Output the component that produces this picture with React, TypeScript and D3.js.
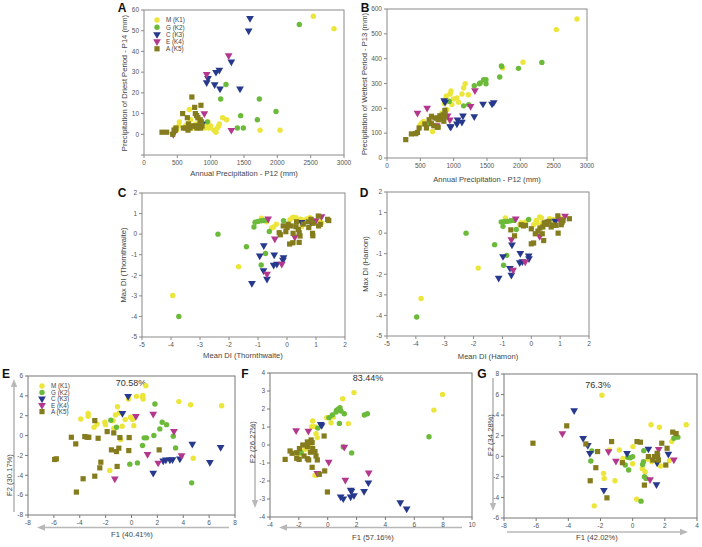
import React from "react";
import * as d3 from "d3";

type Pt = [number, number];

const groupNames = ["M (K1)", "G (K2)", "C (K3)", "E (K4)", "A (K5)"];
const groupColors = ["#ece53a", "#6cba3a", "#27398d", "#b4378e", "#857c1e"];
const groupShapes = ["circle", "circle", "tri", "tri", "square"];

// Panel A: Annual precipitation vs driest period precipitation
const aM: Pt[] = [[2540,57],[2850,51],[2040,2],[1740,2],[1180,8],[1240,7],[1120,4],[1130,5],[1080,1],[1050,2],[1000,4],[980,3],[950,4],[920,3],[960,6],[900,5],[870,4],[830,7],[820,5],[800,3],[780,5],[760,4],[740,3],[680,12],[700,7],[650,5],[620,4],[530,6],[520,4],[465,3],[490,2],[1100,3]];
const aG: Pt[] = [[2330,53],[1230,24],[1150,17],[1730,17],[1980,11],[1450,9],[1700,7],[1400,3],[1490,3],[950,6]];
const aC: Pt[] = [[1590,56],[1570,50],[1310,35],[1130,31],[1080,30],[960,27],[940,25],[1060,24],[1140,22],[1440,22],[870,5]];
const aE: Pt[] = [[1270,38],[940,29],[905,10],[1310,2],[440,0]];
const aA: Pt[] = [[270,1],[340,1],[430,0],[450,2],[480,3],[470,2],[580,10],[590,3],[630,3],[650,8],[667,5],[660,2],[690,3],[718,18],[760,13],[770,10],[790,9],[794,3],[808,8],[818,4],[840,5],[844,7],[854,14],[860,6],[870,4],[850,3],[753,4],[780,4],[720,4]];

// Panel B: Annual precipitation vs wettest period precipitation
const bM: Pt[] = [[2850,560],[2540,517],[2040,386],[1736,362],[1173,299],[1149,282],[1124,258],[1049,242],[1074,224],[999,238],[948,258],[960,270],[924,231],[858,219],[873,235],[973,215],[522,141],[548,147],[497,134],[683,107],[848,174],[820,180],[900,195],[1220,255],[890,250]];
const bG: Pt[] = [[2323,385],[1972,361],[1716,371],[1721,368],[1691,326],[1450,315],[1485,315],[1485,299],[1399,302],[1385,299],[1309,291],[1225,215],[1149,210],[933,228],[873,181],[638,141],[597,134]];
const bC: Pt[] = [[1440,218],[1575,218],[1601,224],[1309,167],[1139,170],[1124,145],[1059,154],[1049,138],[948,127],[958,126],[858,232],[870,225]];
const bE: Pt[] = [[457,181],[602,201],[1319,272],[1254,208],[908,170],[943,154],[743,131]];
const bA: Pt[] = [[281,74],[366,97],[431,98],[457,103],[482,121],[567,137],[592,121],[632,154],[667,168],[667,138],[702,130],[753,124],[768,124],[753,161],[793,161],[818,165],[833,157],[853,164],[843,174],[868,192],[868,168],[793,170],[718,161],[768,154],[853,148],[810,158]];

// Panel C: Mean DI vs Max DI (Thornthwaite)
const cM: Pt[] = [[-3.94,-2.98],[-1.67,-1.58],[-0.88,0.78],[-0.53,0.3],[-0.46,0.35],[-0.37,0.48],[0.19,0.8],[0.23,0.82],[0.31,0.8],[0.46,0.73],[0.5,0.7],[0.68,0.74],[0.79,0.8],[0.85,0.53],[0.92,0.56],[0.23,-0.4],[0.5,0.36],[1.14,0.6],[1.2,0.55],[0.6,0.6],[0.1,0.7],[-0.7,0.6]];
const cG: Pt[] = [[-2.38,0],[-1.4,-0.61],[-3.73,-4],[-0.89,-1.5],[-0.74,-0.94],[-1.14,0.35],[-1.1,0.58],[-1.0,0.62],[-0.89,0.65],[-0.8,0.66],[-0.69,0.68],[-0.61,0.13],[-0.12,0.65]];
const cC: Pt[] = [[-1.21,-2.39],[-0.94,-1.05],[-0.8,-0.55],[-0.81,-1.77],[-0.69,-2.18],[-0.44,-1],[-0.46,-1.5],[-0.35,-1.45],[-0.12,-1.13],[-0.14,-1.26],[0.5,0.58],[0.83,0.58]];
const cE: Pt[] = [[-0.65,0.75],[-0.69,-1.94],[-0.18,-1.45],[-0.42,-0.22],[0.27,-0.14],[1.19,0.86],[0.99,0.66]];
const cA: Pt[] = [[-0.23,-0.03],[0.09,-0.48],[0.42,-0.4],[0,0.32],[-0.13,0.4],[0.04,0.48],[0.14,0.4],[-0.27,0.07],[0.21,0.04],[0.39,0.23],[0.42,0.07],[0.45,-0.09],[0.31,0.36],[0.56,0.49],[0.73,0.6],[0.9,0.53],[0.83,0.72],[0.88,0.04],[1.08,0.88],[1.4,0.72],[1.44,0.66],[1.09,0.4],[1.15,0.48],[0.75,0.32],[0.89,-0.08],[0.33,0.6],[0.2,-0.42],[-0.04,0.12]];

// Panel D: Mean DI vs Max DI (Hamon)
const dM: Pt[] = [[-3.82,-3.18],[-1.84,-1.7],[-0.9,0.74],[-0.4,0.41],[-0.35,0.51],[0.08,0.41],[0.17,0.62],[0.29,0.79],[0.35,0.74],[0.37,0.46],[0.63,0.7],[0.75,0.67],[0.98,0.74],[1.06,0.7],[0.5,0.55],[0.2,0.5],[-0.2,0.55],[0.85,0.6],[0.6,0.45]];
const dG: Pt[] = [[-3.97,-4.08],[-2.26,0],[-1.27,-0.56],[-0.96,-1.56],[-0.85,-1.08],[-0.98,0.33],[-1.04,0.54],[-0.93,0.57],[-0.82,0.57],[-0.72,0.6],[-0.61,0.62],[-0.52,0.18],[-0.09,0.66]];
const dC: Pt[] = [[-1.13,-2.18],[-0.98,-1.13],[-0.67,-0.56],[-0.74,-1.7],[-0.69,-2.03],[-0.38,-0.98],[-0.4,-1.43],[-0.31,-1.38],[-0.09,-1.1],[-0.08,-1.23],[0.58,0.54],[0.83,0.59]];
const dE: Pt[] = [[-0.54,0.7],[-0.69,-0.31],[-0.63,-1.79],[-0.21,-1.39],[0.29,-0.15],[1.17,0.84],[0.98,0.66]];
const dA: Pt[] = [[-0.71,0.16],[-0.58,-0.13],[-0.35,0.41],[-0.27,0.35],[0,0.21],[0,-0.52],[0.08,-0.48],[0.14,-0.03],[0.23,0.1],[0.3,0.25],[0.38,-0.03],[0.43,-0.36],[0.4,0.3],[0.52,0.43],[0.61,0.57],[0.69,0.3],[0.75,0.4],[0.86,0.38],[0.93,0],[0.92,0.84],[1.04,0.41],[1.07,0.54],[1.32,0.7],[1.1,0.62],[-0.2,0.38],[0.45,0.5]];

// Panel E: PCA F1 (40.41%) vs F2 (30.17%)
const eM: Pt[] = [[1.11,5.02],[0.39,3.95],[0.85,3.92],[0.9,3.68],[0.88,4.05],[-0.23,3.68],[-1.08,2.91],[-0.95,2.28],[-3.35,2.24],[-3.35,1.94],[-3.92,1.67],[-2.66,1.17],[-2.06,1.34],[-2.01,1.1],[-1.42,1.5],[-1.24,2.08],[-1.37,0.74],[-0.72,0.94],[-0.49,1.61],[-0.08,1.84],[0.08,1.61],[0.18,1],[-2.89,0.84],[-0.83,-0.4],[-1.68,-3.52],[3.66,3.42],[4.57,3.11],[6.97,3.01],[4.77,-2.28]];
const eG: Pt[] = [[1.81,3.18],[-1.6,1.54],[-1.16,0.84],[2.37,1.34],[2.71,1.1],[2.19,0.67],[1.73,0],[1.16,-0.23],[0.98,-0.23],[3.23,-0.07],[0.85,-1],[3.41,-1.24],[0.46,-2.75],[-0.13,-2.88],[4.65,-4.76]];
const eC: Pt[] = [[-0.26,3.95],[-0.7,2.24],[6.89,-1.17],[4.7,-0.84],[6.06,-2.68],[3.74,-2.34],[3.17,-2.41],[2.97,-2.44],[2.66,-2.44],[2.45,-2.54],[1.68,-3.78]];
const eE: Pt[] = [[0.34,1.94],[1.68,2.18],[3.28,0.44],[1.24,-1.88],[2.06,-2.75],[3.87,-2.01],[-1.29,-4.35]];
const eA: Pt[] = [[-4.65,-0.17],[-4.31,-0.84],[-3.61,-0.1],[-3.43,-0.17],[-3.3,-0.17],[-2.58,-0.27],[-2.84,1.51],[-1.88,0.4],[-1.37,0.27],[-0.9,-0.2],[-0.18,-0.2],[-1.55,-1.44],[-1.16,-1.61],[-0.98,-1.27],[-0.21,-1.51],[2.14,-1.44],[-5.94,-2.41],[-5.81,-2.34],[-2.37,-2.68],[-2.45,-3.25],[-2.84,-4.09],[-3.74,-4.35],[-1.11,-3.11],[-4.26,-5.69]];

// Panel F: PCA F1 (57.16%) vs F2 (26.27%)
const fM: Pt[] = [[1.82,2.91],[1.04,2.57],[7.96,2.81],[7.36,1.94],[0.39,1.56],[0.23,1.24],[1.43,1.19],[-0.07,1.52],[-1.04,1.33],[-1.11,1.02],[-0.88,1.02],[-0.81,0.63],[-0.72,0.41],[-1.22,-0.06],[-1.57,-0.24],[-2.03,-0.52],[-1.8,-0.35],[-0.88,-1.69],[-1.4,-0.1]];
const fG: Pt[] = [[0.92,1.89],[0.62,1.94],[0.85,2.07],[0.75,2.0],[0.58,1.83],[1.15,1.74],[0.32,1.67],[0.09,1.52],[0.81,1.2],[2.54,1.67],[2.75,1.74],[7.02,0.46],[1.08,-0.11],[1.66,-0.44],[-0.69,0.94],[-1.85,-0.43]];
const fC: Pt[] = [[-0.48,1.15],[-0.42,1.09],[0.9,-2.87],[1.08,-2.98],[1.59,-2.5],[1.65,-2.55],[1.59,-2.87],[1.82,-2.8],[2.52,-2.57],[2.82,-2.09],[5.03,-3.2],[5.47,-3.54]];
const fE: Pt[] = [[-2.19,0.81],[-1.34,0.78],[1.15,-0.11],[0.07,-0.94],[1.22,-1.94],[2.84,-1.54],[-0.72,-1.57]];
const fA: Pt[] = [[-2.95,-0.8],[-2.61,-0.33],[-2.47,-0.46],[-2.15,-0.43],[-2.15,-0.74],[-1.98,-0.8],[-1.73,0],[-1.41,0.17],[-1.15,0.28],[-1.41,-0.09],[-1.08,0.13],[-1.04,-0.2],[-1.41,-0.76],[-1.32,-0.83],[-0.88,-0.37],[-0.81,-0.61],[-0.72,-0.83],[-1.08,-1.24],[-0.58,-1.63],[-0.21,-1.44],[-0.25,0.5],[-0.02,-2.61],[-1.96,-0.2],[-1.64,-0.61],[-1.2,-0.4]];

// Panel G: PCA F1 (42.02%) vs F2 (34.28%)
const gM: Pt[] = [[-1.91,5.93],[1.14,3.06],[1.66,2.83],[3.33,3.06],[-1.46,0.62],[-0.83,0.62],[-1.81,-1.66],[-1.77,-2.15],[-1.1,-2.38],[-2.39,-4.82],[0.25,-4.17],[0.02,0.94],[0,-0.72],[0.77,-1.5],[0.94,-0.29],[1.46,-0.36],[1.73,-0.94],[2.43,1.43],[2.29,-0.42],[1.19,-0.52],[-0.6,-0.2],[0.6,-1.2]];
const gG: Pt[] = [[-2.54,0.52],[-2.6,-0.46],[-0.46,-0.85],[-0.25,-1.34],[0,-0.03],[-0.15,-0.15],[0.67,-0.52],[0.62,-0.8],[0.69,0.55],[0.73,-1.99],[0.83,-2.15],[0.52,-4.36],[2.56,1.76],[2.81,1.86],[-0.3,-0.1]];
const gC: Pt[] = [[-3.64,4.46],[-3.08,1.76],[-2.79,1.07],[-2.66,0.29],[-1.79,-3.29],[-0.35,0.29],[0.98,0.72],[1.52,-0.62],[1.48,-2.74],[2.22,0.23]];
const gE: Pt[] = [[-4.37,2.21],[-1.5,0.46],[-1.04,-0.46],[1.62,0.68],[1.08,-2.25],[2.56,-0.33]];
const gA: Pt[] = [[-6.2,1.27],[-4.1,2.96],[-2.91,1.2],[-2.18,0.46],[-2.29,-1.11],[-2.64,-2.38],[-1.6,-4.04],[-1.31,1.43],[-0.64,-0.62],[0.27,1.43],[0.48,1.37],[0.73,-2.8],[0.98,-0.03],[1.25,-0.36],[1.52,0.29],[1.6,-0.36],[1.81,1.27],[2.14,0.78],[2.06,-0.85],[2.49,2.35],[2.7,2.21],[1.35,-0.03],[1.55,0.05]];

const FONT = "'Liberation Sans', Arial, sans-serif";

type Cfg = {
  letter: string; lx: number; ly: number;
  left: number; right: number; top: number; bottom: number;
  xd: [number, number]; yd: [number, number];
  xt: number[]; yt: number[]; yLabelMin?: number;
  xLabel: string; xLabelY: number; xLabelX: number;
  yLabel: string; yLabelX: number; yLabelY: number;
  frame: string;
  series: Pt[][];
  pct?: { text: string; x: number; y: number; anchor: string };
  legend?: { x: number; y: number; dy: number };
  arrows?: { x1: number; y1: number; x2: number; y2: number }[];
};

function Mark({ shape, color, x, y }: { shape: string; color: string; x: number; y: number }) {
  if (shape === "circle") return <circle cx={x} cy={y} r={2.7} fill={color} />;
  if (shape === "square") return <rect x={x - 2.6} y={y - 2.6} width={5.2} height={5.2} fill={color} />;
  const tri = d3.symbol().type(d3.symbolTriangle).size(26)();
  return <path d={tri || ""} transform={`translate(${x},${y}) rotate(180)`} fill={color} />;
}

function Arrow({ x1, y1, x2, y2 }: { x1: number; y1: number; x2: number; y2: number }) {
  const ang = Math.atan2(y2 - y1, x2 - x1);
  const L = 8, W = 3.2;
  const bx = x2 - L * Math.cos(ang), by = y2 - L * Math.sin(ang);
  const px = -Math.sin(ang) * W, py = Math.cos(ang) * W;
  return (
    <g>
      <line x1={x1} y1={y1} x2={bx} y2={by} stroke="#b8b8b8" strokeWidth={1.6} />
      <polygon points={`${x2},${y2} ${bx + px},${by + py} ${bx - px},${by - py}`} fill="#b8b8b8" />
    </g>
  );
}

function Panel({ c }: { c: Cfg }) {
  const xs = d3.scaleLinear().domain(c.xd).range([c.left, c.right]);
  const ys = d3.scaleLinear().domain(c.yd).range([c.bottom, c.top]);
  return (
    <g>
      {c.arrows && c.arrows.map((a, i) => <Arrow key={i} {...a} />)}
      <rect x={c.left} y={c.top} width={c.right - c.left} height={c.bottom - c.top} fill="none" stroke={c.frame} strokeWidth={1} />
      {c.xt.map((v) => (
        <g key={"x" + v}>
          <line x1={xs(v)} x2={xs(v)} y1={c.bottom} y2={c.bottom + 3} stroke={c.frame} />
          <text x={xs(v)} y={c.bottom + 10} fontSize={6.5} fill="#555" textAnchor="middle" fontFamily={FONT}>{v}</text>
        </g>
      ))}
      {c.yt.map((v) => (
        <g key={"y" + v}>
          <line x1={c.left - 3} x2={c.left} y1={ys(v)} y2={ys(v)} stroke={c.frame} />
          {(c.yLabelMin === undefined || v >= c.yLabelMin) && (
            <text x={c.left - 5} y={ys(v) + 2.3} fontSize={6.5} fill="#555" textAnchor="end" fontFamily={FONT}>{v}</text>
          )}
        </g>
      ))}
      <text x={c.xLabelX} y={c.xLabelY} fontSize={7.6} fill="#444" textAnchor="middle" fontFamily={FONT}>{c.xLabel}</text>
      <text transform={`translate(${c.yLabelX},${c.yLabelY}) rotate(-90)`} fontSize={7.6} fill="#444" textAnchor="middle" fontFamily={FONT}>{c.yLabel}</text>
      <text x={c.lx} y={c.ly} fontSize={12} fontWeight="bold" fill="#111" textAnchor="middle" fontFamily={FONT}>{c.letter}</text>
      {c.pct && (
        <text x={c.pct.x} y={c.pct.y} fontSize={9} fill="#333" textAnchor={c.pct.anchor} fontFamily={FONT}>{c.pct.text}</text>
      )}
      {c.series.map((pts, gi) => (
        <g key={"s" + gi}>
          {pts.map((p, i) => (
            <Mark key={i} shape={groupShapes[gi]} color={groupColors[gi]} x={xs(p[0])} y={ys(p[1])} />
          ))}
        </g>
      ))}
      {c.legend && groupNames.map((n, gi) => (
        <g key={"l" + gi}>
          <Mark shape={groupShapes[gi]} color={groupColors[gi]} x={c.legend!.x} y={c.legend!.y + gi * c.legend!.dy} />
          <text x={c.legend!.x + 9} y={c.legend!.y + gi * c.legend!.dy + 2.3} fontSize={6.3} fill="#444" fontFamily={FONT}>{n}</text>
        </g>
      ))}
    </g>
  );
}

const panels: Cfg[] = [
  {
    letter: "A", lx: 122, ly: 12, left: 144, right: 344, top: 10, bottom: 155,
    xd: [0, 3000], yd: [-10, 60], xt: d3.range(0, 3001, 500), yt: d3.range(-10, 61, 10), yLabelMin: 0,
    xLabel: "Annual Precipitation - P12 (mm)", xLabelX: 244, xLabelY: 176,
    yLabel: "Precipitation of Driest Period - P14 (mm)", yLabelX: 127, yLabelY: 83,
    frame: "#8a8a8a", series: [aM, aG, aC, aE, aA], legend: { x: 157, y: 20, dy: 7.2 },
  },
  {
    letter: "B", lx: 365, ly: 12, left: 387, right: 587, top: 9, bottom: 158,
    xd: [0, 3000], yd: [0, 600], xt: d3.range(0, 3001, 500), yt: d3.range(0, 601, 100),
    xLabel: "Annual Precipitation - P12 (mm)", xLabelX: 487, xLabelY: 182,
    yLabel: "Precipitation of Wettest Period - P13 (mm)", yLabelX: 367, yLabelY: 84,
    frame: "#8a8a8a", series: [bM, bG, bC, bE, bA],
  },
  {
    letter: "C", lx: 122, ly: 197, left: 142, right: 345, top: 193, bottom: 337,
    xd: [-5, 2], yd: [-5, 2], xt: d3.range(-5, 3, 1), yt: d3.range(-5, 3, 1),
    xLabel: "Mean DI (Thornthwaite)", xLabelX: 243, xLabelY: 358,
    yLabel: "Max DI (Thornthwaite)", yLabelX: 126, yLabelY: 265,
    frame: "#8a8a8a", series: [cM, cG, cC, cE, cA],
  },
  {
    letter: "D", lx: 364, ly: 197, left: 387, right: 589, top: 192, bottom: 336,
    xd: [-5, 2], yd: [-5, 2], xt: d3.range(-5, 3, 1), yt: d3.range(-5, 3, 1),
    xLabel: "Mean DI (Hamon)", xLabelX: 488, xLabelY: 358.5,
    yLabel: "Max DI (Hamon)", yLabelX: 368, yLabelY: 264,
    frame: "#8a8a8a", series: [dM, dG, dC, dE, dA],
  },
  {
    letter: "E", lx: 6, ly: 378, left: 28, right: 235, top: 376, bottom: 515,
    xd: [-8, 8], yd: [-8, 6], xt: d3.range(-8, 9, 2), yt: d3.range(-8, 7, 2),
    xLabel: "F1 (40.41%)", xLabelX: 132, xLabelY: 537,
    yLabel: "F2 (30.17%)", yLabelX: 12, yLabelY: 475,
    frame: "#777", series: [eM, eG, eC, eE, eA],
    pct: { text: "70.58%", x: 131, y: 386, anchor: "middle" },
    legend: { x: 42, y: 386, dy: 6.4 },
    arrows: [{ x1: 229, y1: 527.5, x2: 37, y2: 527.5 }, { x1: 14, y1: 512, x2: 14, y2: 379 }],
  },
  {
    letter: "F", lx: 245, ly: 378, left: 270, right: 472, top: 373, bottom: 517,
    xd: [-4, 10], yd: [-4, 4], xt: d3.range(-4, 11, 2), yt: d3.range(-4, 5, 1),
    xLabel: "F1 (57.16%)", xLabelX: 373, xLabelY: 539.5,
    yLabel: "F2 (26.27%)", yLabelX: 255, yLabelY: 442,
    frame: "#777", series: [fM, fG, fC, fE, fA],
    pct: { text: "83.44%", x: 368, y: 381, anchor: "middle" },
    arrows: [{ x1: 462, y1: 527.5, x2: 279, y2: 527.5 }, { x1: 255, y1: 424, x2: 255, y2: 508 }],
  },
  {
    letter: "G", lx: 482, ly: 378, left: 504, right: 697, top: 374, bottom: 518,
    xd: [-8, 4], yd: [-6, 8], xt: d3.range(-8, 5, 2), yt: d3.range(-6, 9, 2),
    xLabel: "F1 (42.02%)", xLabelX: 597, xLabelY: 540,
    yLabel: "F2 (34.28%)", yLabelX: 493, yLabelY: 435,
    frame: "#777", series: [gM, gG, gC, gE, gA],
    pct: { text: "76.3%", x: 598, y: 388, anchor: "middle" },
    arrows: [{ x1: 507, y1: 532, x2: 688, y2: 532 }, { x1: 493, y1: 378, x2: 493, y2: 511 }],
  },
];

export default function App() {
  return (
    <svg width={702} height={547} style={{ position: "absolute", left: 0, top: 0, background: "#fff" }}>
      <rect x={0} y={0} width={702} height={547} fill="#fff" />
      {panels.map((p) => <Panel key={p.letter} c={p} />)}
    </svg>
  );
}
